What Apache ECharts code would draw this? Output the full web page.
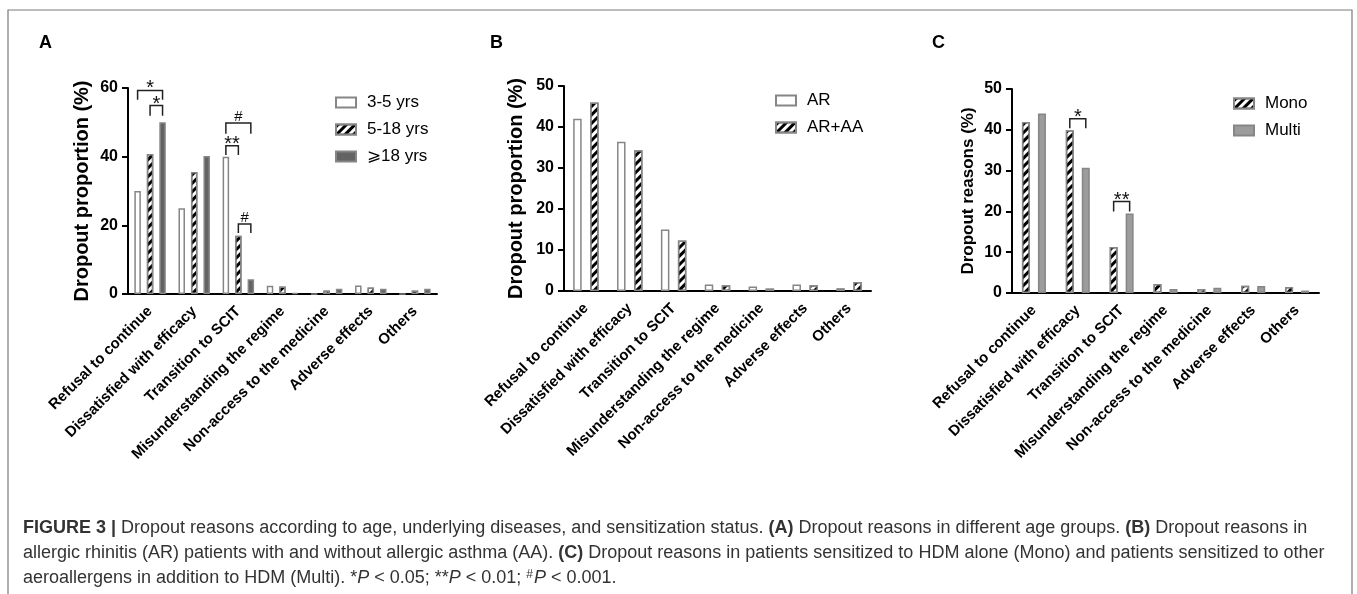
<!DOCTYPE html>
<html>
<head>
<meta charset="utf-8">
<script src="https://cdn.jsdelivr.net/npm/echarts@6/dist/echarts.min.js"></script>
<style>
html, body { margin: 0; padding: 0; background: #fff; }
#chart { width: 1357px; height: 594px; }
</style>
</head>
<body>
<div id="chart"></div>
<script>
const categories = ['Refusal to continue', 'Dissatisfied with efficacy', 'Transition to SCIT',
    'Misunderstanding the regime', 'Non-access to the medicine', 'Adverse effects', 'Others']

// A - age groups
const ageNames = ['3-5 yrs', '5-18 yrs', '⩾18 yrs']
const age3to5 = [30, 25, 40, 2.4, 0, 2.5, 0]
const age5to18 = [40.8, 35.5, 17, 2.2, 1, 1.9, 1]
const age18up = [50, 40.2, 4.3, 0.3, 1.5, 1.5, 1.5]

// B - underlying diseases
const diseaseNames = ['AR', 'AR+AA']
const arOnly = [42, 36.4, 15, 1.6, 1.1, 1.6, 0.7]
const arAA = [46, 34.3, 12.3, 1.4, 0.6, 1.4, 2.2]

// C - sensitization
const sensNames = ['Mono', 'Multi']
const mono = [41.9, 39.9, 11.3, 2.2, 1.0, 1.8, 1.5]
const multi = [44, 30.7, 19.5, 1.0, 1.3, 1.7, 0.6]

// y axis
const yMaxA = 60, yStepA = 20
const yMaxBC = 50, yStepBC = 10

// significance marks: panel, category, bars joined, bracket top / leg end (in %)
const marks = [
    { panel: 0, cat: 0, from: 0, to: 2, top: 59.3, leg: 56.6, text: '*' },
    { panel: 0, cat: 0, from: 1, to: 2, top: 54.9, leg: 51.9, text: '*' },
    { panel: 0, cat: 2, from: 0, to: 2, top: 49.8, leg: 46.7, text: '#' },
    { panel: 0, cat: 2, from: 0, to: 1, top: 43.2, leg: 40.5, text: '**' },
    { panel: 0, cat: 2, from: 1, to: 2, top: 20.4, leg: 17.8, text: '#' },
    { panel: 2, cat: 1, from: 0, to: 1, top: 42.7, leg: 40.4, text: '*' },
    { panel: 2, cat: 2, from: 0, to: 1, top: 22.4, leg: 20.0, text: '**' },
]

const font = 'Liberation Sans, Arial, Helvetica, sans-serif'
const edge = '#868686'
const hatch = {
    symbol: 'rect',
    symbolSize: 1,
    color: '#000',
    dashArrayX: [1, 0],
    dashArrayY: [3, 3],
    rotation: -Math.PI / 4,
}

const panels = [
    {
        grid: { left: 128, top: 88, width: 309, height: 206 },
        max: yMaxA, interval: yStepA,
        title: 'Dropout proportion (%)', nameGap: 36, nameSize: 20,
        barWidth: 6.5, gap: 0.92,
        legend: { left: 330, top: 89 },
        series: [
            { name: ageNames[0], data: age3to5, color: '#fff' },
            { name: ageNames[1], data: age5to18, color: '#fff', decal: hatch },
            { name: ageNames[2], data: age18up, color: '#636363' },
        ],
    },
    {
        grid: { left: 564, top: 86, width: 307, height: 205 },
        max: yMaxBC, interval: yStepBC,
        title: 'Dropout proportion (%)', nameGap: 38, nameSize: 20,
        barWidth: 8.5, gap: 1,
        legend: { left: 770, top: 87 },
        series: [
            { name: diseaseNames[0], data: arOnly, color: '#fff' },
            { name: diseaseNames[1], data: arAA, color: '#fff', decal: hatch },
        ],
    },
    {
        grid: { left: 1012, top: 89, width: 307, height: 204 },
        max: yMaxBC, interval: yStepBC,
        title: 'Dropout reasons (%)', nameGap: 35, nameSize: 17,
        barWidth: 8, gap: 1,
        legend: { left: 1228, top: 90 },
        series: [
            { name: sensNames[0], data: mono, color: '#fff', decal: hatch },
            { name: sensNames[1], data: multi, color: '#9c9c9c' },
        ],
    },
]

let chart = echarts.init(document.getElementById('chart'))

let option = {
    animation: false,
    backgroundColor: '#fff',
    textStyle: { fontFamily: font },
    grid: [], xAxis: [], yAxis: [], legend: [], series: [],
}

panels.forEach((p, i) => {
    option.grid.push(Object.assign({ outerBoundsMode: 'none', containLabel: false }, p.grid))
    option.xAxis.push({
        type: 'category',
        gridIndex: i,
        data: categories,
        axisLine: { lineStyle: { color: '#000', width: 2 } },
        axisTick: { alignWithLabel: true, length: 8, lineStyle: { color: '#000', width: 2 } },
        axisLabel: {
            interval: 0, rotate: 45, margin: 15,
            color: '#000', fontWeight: 'bold', fontSize: 15, fontFamily: font,
        },
        splitLine: { show: false },
    })
    option.yAxis.push({
        type: 'value',
        gridIndex: i,
        min: 0, max: p.max, interval: p.interval,
        name: p.title,
        nameLocation: 'middle',
        nameRotate: 90,
        nameGap: p.nameGap,
        nameTextStyle: { color: '#000', fontWeight: 'bold', fontSize: p.nameSize, fontFamily: font },
        axisLine: { show: true, lineStyle: { color: '#000', width: 2 } },
        axisTick: { show: true, length: 6, lineStyle: { color: '#000', width: 2 } },
        axisLabel: { color: '#000', fontWeight: 'bold', fontSize: 16, margin: 10, fontFamily: font },
        splitLine: { show: false },
    })
    option.legend.push({
        left: p.legend.left,
        top: p.legend.top,
        orient: 'vertical',
        icon: 'rect',
        itemWidth: 20,
        itemHeight: 10,
        itemGap: 10,
        data: p.series.map(s => s.name),
        textStyle: { color: '#000', fontSize: 17, fontFamily: font, padding: [0, 0, 0, 6] },
    })
    p.series.forEach(s => {
        option.series.push({
            type: 'bar',
            name: s.name,
            xAxisIndex: i,
            yAxisIndex: i,
            data: s.data,
            barWidth: p.barWidth,
            barGap: (p.gap * 100) + '%',
            itemStyle: { color: s.color, borderColor: edge, borderWidth: 1.5, decal: s.decal },
            emphasis: { disabled: true },
        })
    })
})

chart.setOption(option)

// bar centre in pixels, same layout rule the bar series uses
function barX(p, cat, k) {
    let panel = panels[p]
    let n = panel.series.length
    let w = panel.barWidth
    let g = w * panel.gap
    let total = n * w + (n - 1) * g
    let c = chart.convertToPixel({ xAxisIndex: p, yAxisIndex: p }, [cat, 0])[0]
    return c - total / 2 + w / 2 + k * (w + g)
}
function valY(p, v) {
    return chart.convertToPixel({ xAxisIndex: p, yAxisIndex: p }, [0, v])[1]
}

let graphic = []

// outer frame
graphic.push({
    type: 'rect', silent: true,
    shape: { x: 8, y: 10, width: 1344, height: 620 },
    style: { fill: null, stroke: '#7a7a7a', lineWidth: 1.2 },
})

// panel letters
;[['A', 39], ['B', 490], ['C', 932]].forEach(([t, x]) => {
    graphic.push({
        type: 'text', x: x, y: 43,
        style: { text: t, font: 'bold 18px ' + font, fill: '#000', verticalAlign: 'middle' },
    })
})

// brackets
marks.forEach(m => {
    let x1 = barX(m.panel, m.cat, m.from)
    let x2 = barX(m.panel, m.cat, m.to)
    let yt = valY(m.panel, m.top)
    let yl = valY(m.panel, m.leg)
    graphic.push({
        type: 'polyline', silent: true,
        shape: { points: [[x1, yl], [x1, yt], [x2, yt], [x2, yl]] },
        style: { stroke: '#222', lineWidth: 1.5, fill: null },
    })
    let star = m.text.indexOf('*') >= 0
    graphic.push({
        type: 'text', silent: true,
        x: (x1 + x2) / 2,
        y: yt - 6.5 + (star ? 5 : 0),
        style: {
            text: m.text,
            font: (star ? '20px ' : '15px ') + font,
            fill: '#111', align: 'center', verticalAlign: 'middle',
        },
    })
})

// caption
const capFont = '18px ' + font
const capRich = {
    b: { fontWeight: 'bold', fontSize: 18, fontFamily: font, fill: '#333' },
    i: { fontStyle: 'italic', fontSize: 18, fontFamily: font, fill: '#333' },
    s: { fontSize: 12, fontFamily: font, fill: '#333', verticalAlign: 'top', padding: [0, 1, 7, 0] },
}
const capLines = [
    '{b|FIGURE 3 |} Dropout reasons according to age, underlying diseases, and sensitization status. {b|(A)} Dropout reasons in different age groups. {b|(B)} Dropout reasons in',
    'allergic rhinitis (AR) patients with and without allergic asthma (AA). {b|(C)} Dropout reasons in patients sensitized to HDM alone (Mono) and patients sensitized to other',
    'aeroallergens in addition to HDM (Multi). *{i|P} < 0.05; **{i|P} < 0.01; {s|#}{i|P} < 0.001.',
]
capLines.forEach((line, i) => {
    graphic.push({
        type: 'text', silent: true,
        x: 23, y: 528 + i * 25,
        style: { text: line, rich: capRich, font: capFont, fill: '#333', verticalAlign: 'middle' },
    })
})

chart.setOption({ graphic: graphic })
</script>
</body>
</html>
